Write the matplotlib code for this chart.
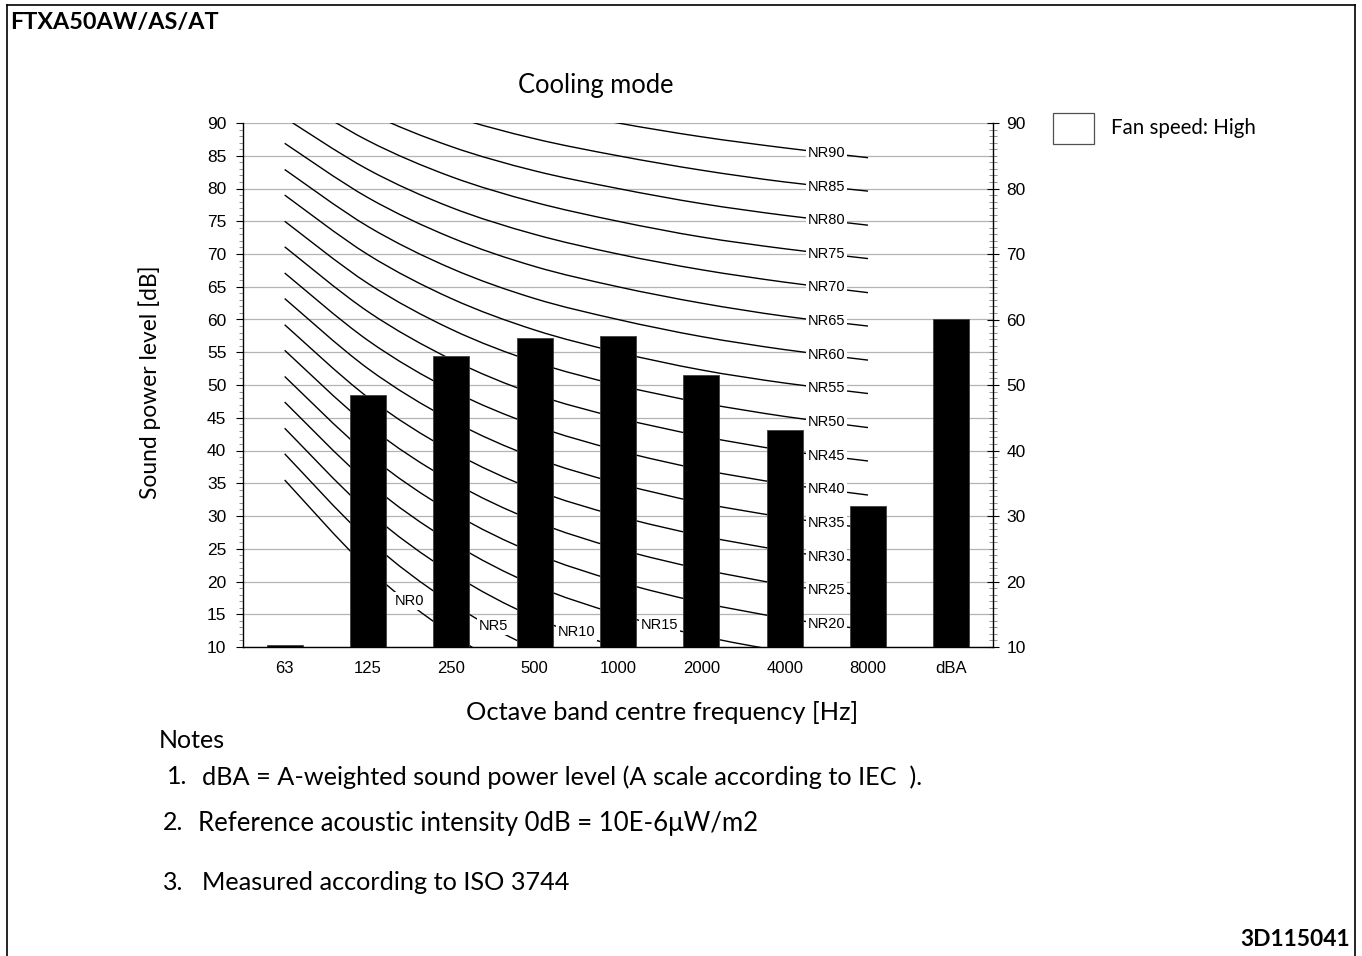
import numpy as np
import matplotlib.pyplot as plt
from matplotlib.path import Path
from matplotlib.patches import PathPatch, Rectangle
from matplotlib.lines import Line2D
from matplotlib.ticker import MultipleLocator

# octave bands and measured sound power levels
bands = ['63', '125', '250', '500', '1000', '2000', '4000', '8000', 'dBA']
levels = [10.3, 48.5, 54.5, 57.2, 57.5, 51.5, 43.2, 31.6, 60.0]

# NR reference curves, value of each curve at each octave band
nr_names = ['NR0', 'NR5', 'NR10', 'NR15', 'NR20', 'NR25', 'NR30', 'NR35', 'NR40', 'NR45',
            'NR50', 'NR55', 'NR60', 'NR65', 'NR70', 'NR75', 'NR80', 'NR85', 'NR90']
nr_63 = [35.5, 39.5, 43.4, 47.4, 51.3, 55.3, 59.2, 63.2, 67.1, 71.1,
         75.0, 79.0, 82.9, 86.9, 90.8, 94.8, 98.7, 102.7, 106.6]
nr_125 = [22.0, 26.4, 30.7, 35.1, 39.4, 43.8, 48.1, 52.5, 56.8, 61.2,
          65.5, 69.9, 74.2, 78.6, 82.9, 87.3, 91.6, 96.0, 100.3]
nr_250 = [12.0, 16.7, 21.3, 26.0, 30.6, 35.3, 39.9, 44.6, 49.2, 53.9,
          58.5, 63.2, 67.8, 72.5, 77.1, 81.8, 86.4, 91.1, 95.7]
nr_500 = [4.8, 9.7, 14.5, 19.4, 24.3, 29.2, 34.0, 38.9, 43.8, 48.6,
          53.5, 58.4, 63.2, 68.1, 73.0, 77.9, 82.7, 87.6, 92.5]
nr_1000 = [0.0, 5.0, 10.0, 15.0, 20.0, 25.0, 30.0, 35.0, 40.0, 45.0,
           50.0, 55.0, 60.0, 65.0, 70.0, 75.0, 80.0, 85.0, 90.0]
nr_2000 = [-3.5, 1.6, 6.7, 11.7, 16.8, 21.9, 27.0, 32.0, 37.1, 42.2,
           47.3, 52.3, 57.4, 62.5, 67.6, 72.6, 77.7, 82.8, 87.9]
nr_4000 = [-6.1, -1.0, 4.2, 9.3, 14.4, 19.5, 24.7, 29.8, 34.9, 40.0,
           45.2, 50.3, 55.4, 60.5, 65.7, 70.8, 75.9, 81.0, 86.2]
nr_8000 = [-8.0, -2.9, 2.3, 7.5, 12.6, 17.8, 22.9, 28.1, 33.2, 38.4,
           43.5, 48.7, 53.8, 59.0, 64.1, 69.3, 74.4, 79.6, 84.7]
# band segment where each NR label sits
nr_label_seg = [1, 2, 3, 4, 6, 6, 6, 6, 6, 6, 6, 6, 6, 6, 6, 6, 6, 6, 6]

W, H = 1362, 956


def fx(px):
    return px / W


def fy(py):
    return 1 - py / H


def smooth_path(xs, ys):
    # excel-like smoothed line: catmull-rom segments as cubic beziers
    n = len(xs)
    verts = [(xs[0], ys[0])]
    codes = [Path.MOVETO]
    for i in range(n - 1):
        a = max(i - 1, 0)
        d = min(i + 2, n - 1)
        c1 = (xs[i] + (xs[i + 1] - xs[a]) / 6, ys[i] + (ys[i + 1] - ys[a]) / 6)
        c2 = (xs[i + 1] - (xs[d] - xs[i]) / 6, ys[i + 1] - (ys[d] - ys[i]) / 6)
        verts += [c1, c2, (xs[i + 1], ys[i + 1])]
        codes += [Path.CURVE4] * 3
    return Path(verts, codes)


plt.rcParams['font.family'] = ['Liberation Sans', 'DejaVu Sans']
txt_font = ['Lato', 'DejaVu Sans']

fig = plt.figure(figsize=(W / 100, H / 100), dpi=100)
ax = fig.add_axes([fx(243), fy(647), (993 - 243) / W, (647 - 123) / H])

x = np.arange(len(bands))
nr_table = [nr_63, nr_125, nr_250, nr_500, nr_1000, nr_2000, nr_4000, nr_8000]
for k, name in enumerate(nr_names):
    ys = [col[k] for col in nr_table]
    xs = list(range(len(ys)))
    ax.add_patch(PathPatch(smooth_path(xs, ys), fill=False, ec='black', lw=1.0, zorder=2))
    s = nr_label_seg[k]
    ax.text(s + 0.5, (ys[s] + ys[s + 1]) / 2, name, ha='center', va='center', fontsize=10.5,
            zorder=5, bbox=dict(boxstyle='square,pad=0.12', fc='white', ec='none'))

ax.bar(x, levels, width=0.43, color='black', edgecolor='#404040', lw=0.6, zorder=3)

ax.set_xlim(-0.5, 8.5)
ax.set_ylim(10, 90)
ax.set_xticks(x)
ax.set_xticklabels(bands)
ax.tick_params(axis='x', length=0, pad=10, labelsize=12)
ax.yaxis.set_major_locator(MultipleLocator(5))
ax.yaxis.set_minor_locator(MultipleLocator(1))
ax.tick_params(axis='y', which='major', direction='out', length=5, width=0.8, pad=7, labelsize=12.5)
ax.tick_params(axis='y', which='minor', direction='out', length=3, width=0.6, color='#808080')
ax.yaxis.grid(True, color='#b4b4b4', lw=0.9)
ax.set_axisbelow(True)
ax.spines['top'].set_visible(False)
ax.spines['right'].set_visible(False)
ax.spines['left'].set_linewidth(1.0)
ax.spines['bottom'].set_linewidth(1.0)

ax2 = ax.twinx()
ax2.set_ylim(10, 90)
ax2.yaxis.set_major_locator(MultipleLocator(10))
ax2.yaxis.set_minor_locator(MultipleLocator(1))
ax2.tick_params(axis='y', which='major', direction='inout', length=9, width=0.8, pad=5, labelsize=12.5)
ax2.tick_params(axis='y', which='minor', direction='inout', length=6, width=0.6, color='#808080')
for sp in ['top', 'left', 'bottom']:
    ax2.spines[sp].set_visible(False)
ax2.spines['right'].set_linewidth(1.0)

# texts
fig.text(fx(10), fy(22), 'FTXA50AW/AS/AT', fontsize=16.8, fontweight='bold', family=txt_font,
         ha='left', va='center')
fig.text(fx(596), fy(85), 'Cooling mode', fontsize=18.4, family=txt_font, ha='center', va='center')
fig.text(fx(150), fy(382), 'Sound power level [dB]', fontsize=16.4, family=txt_font,
         ha='center', va='center', rotation=90)
fig.text(fx(662), fy(712), 'Octave band centre frequency [Hz]', fontsize=18.3, family=txt_font,
         ha='center', va='center')
fig.add_artist(Rectangle((fx(1053), fy(144)), 41 / W, 31 / H, fill=False, ec='#505050', lw=0.9))
fig.text(fx(1111), fy(128), 'Fan speed: High', fontsize=14.8, family=txt_font, ha='left', va='center')

fig.text(fx(159), fy(740), 'Notes', fontsize=18, family=txt_font, ha='left', va='center')
fig.text(fx(167), fy(777), '1.', fontsize=18, family=txt_font, ha='left', va='center')
fig.text(fx(202), fy(777), 'dBA = A-weighted sound power level (A scale according to IEC  ).',
         fontsize=18.2, family=txt_font, ha='left', va='center')
fig.text(fx(163), fy(823), '2.', fontsize=18, family=txt_font, ha='left', va='center')
fig.text(fx(198), fy(823), 'Reference acoustic intensity 0dB = 10E-6\u03bcW/m2',
         fontsize=18.5, family=txt_font, ha='left', va='center')
fig.text(fx(163), fy(882), '3.', fontsize=18, family=txt_font, ha='left', va='center')
fig.text(fx(202), fy(882), 'Measured according to ISO 3744',
         fontsize=18.2, family=txt_font, ha='left', va='center')
fig.text(fx(1350), fy(940), '3D115041', fontsize=16.4, fontweight='bold', family=txt_font,
         ha='right', va='center')

# outer frame (open at the bottom)
fig.add_artist(Line2D([fx(7), fx(7)], [0, fy(5)], color='black', lw=1.2))
fig.add_artist(Line2D([fx(7), fx(1355)], [fy(5), fy(5)], color='black', lw=1.2))
fig.add_artist(Line2D([fx(1355), fx(1355)], [0, fy(5)], color='black', lw=1.2))

plt.savefig('out.png', dpi=100)
